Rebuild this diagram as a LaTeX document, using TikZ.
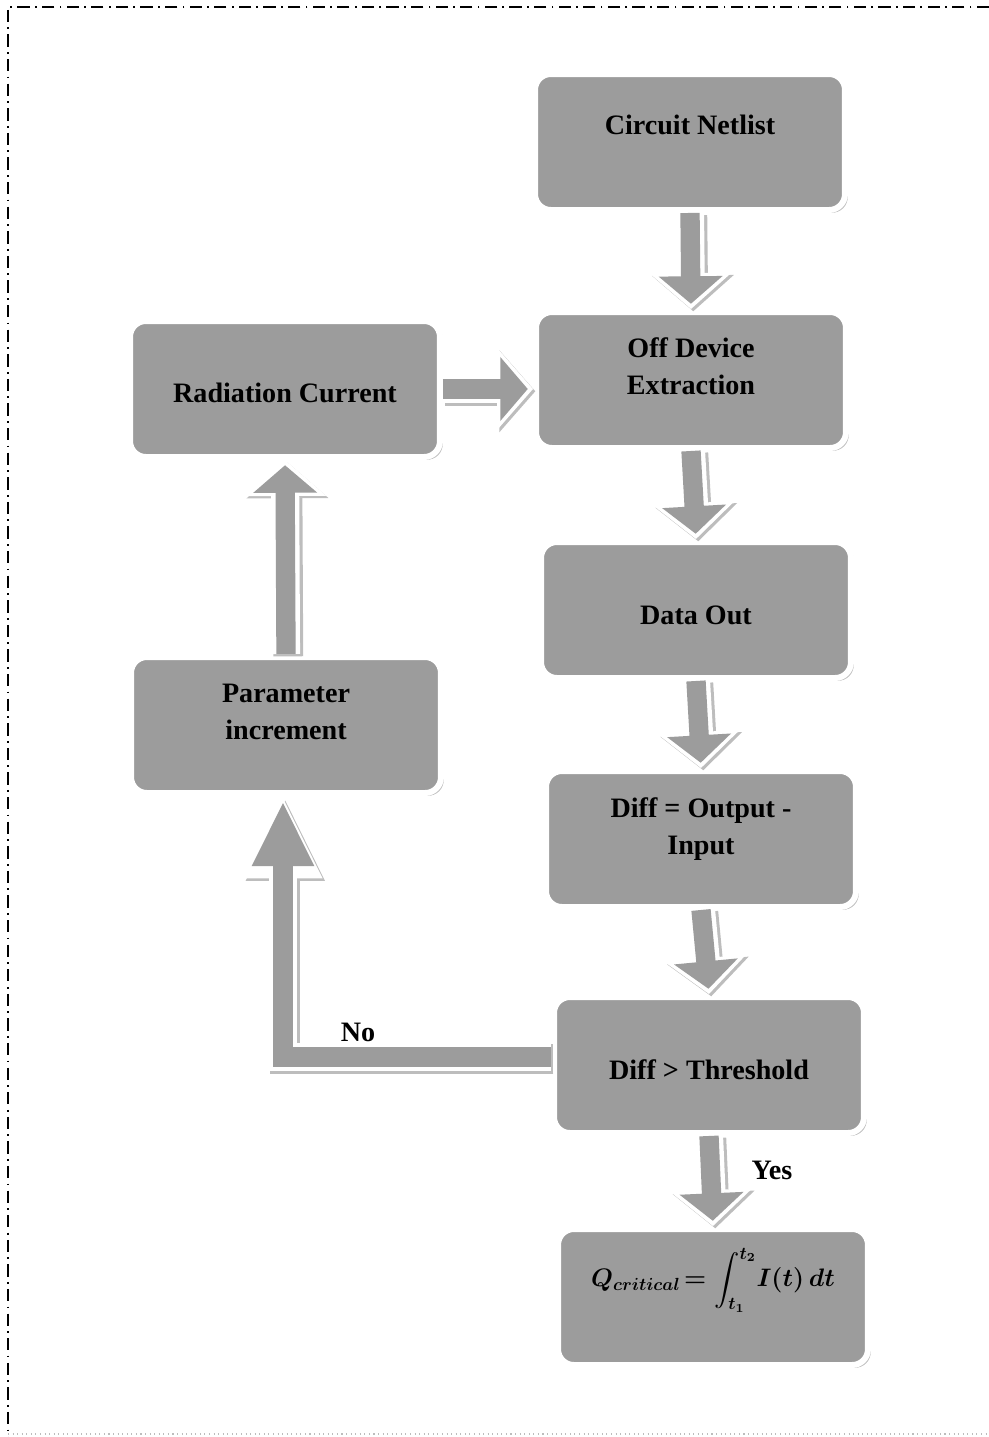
\documentclass[tikz,border=0pt]{standalone}
\usepackage{amsmath}
\usepackage{fontspec}
\setmainfont{Liberation Serif}
\usetikzlibrary{arrows.meta,shadows}

\definecolor{boxgray}{HTML}{9C9C9C}
\definecolor{edgegray}{HTML}{BDBDBD}

\newsavebox{\qcritbox}

\tikzset{
  stepbox/.style={rounded corners=9pt, fill=boxgray, draw=white, line width=3.4pt,
    minimum width=6.2cm, minimum height=2.72cm,
    drop shadow={shadow xshift=1.6pt, shadow yshift=-1.6pt, fill=edgegray, opacity=1}},
  boxtext/.style={align=center, font=\fontsize{16}{21}\selectfont\bfseries},
  flowbase/.style n args={4}{draw=boxgray, line width=11pt, line join=miter, shorten >=3pt,
    -{Triangle[width=#1, length=#2]},
    preaction={transform canvas={shift={(1.3pt,-1.3pt)}}, draw=edgegray, line width=17pt,
      shorten >=0pt, -{Triangle[width=#3, length=#4]}},
    preaction={draw=white, line width=16pt, shorten >=0pt,
      -{Triangle[width=#3, length=#4]}}},
  flow/.style={flowbase={1.25cm}{0.55cm}{1.6cm}{0.72cm}},
  longflow/.style={flowbase={1.15cm}{1.3cm}{1.45cm}{1.65cm}},
  flowlabel/.style={font=\fontsize{16}{21}\selectfont\bfseries}
}

\begin{document}
\sbox{\qcritbox}{\fontsize{14}{18}\selectfont\boldmath
  $Q_{critical}\!=\displaystyle\int_{t_1}^{t_2}\! I(t)\,dt$}%
\begin{tikzpicture}[x=0.02cm, y=-0.02cm]
\useasboundingbox (0,0) rectangle (989,1437);

% Frame (dash-dot)
\draw[line width=1pt, dash pattern=on 7pt off 3pt on 1pt off 3pt] (989,7) -- (8,7) -- (8,1437);
\draw[edgegray, line width=0.6pt, dotted] (8,1434) -- (989,1434);

% Right column
\node[stepbox, label={[boxtext, yshift=3.4mm]center:Circuit Netlist}] (net) at (690,142) {};
\node[stepbox, label={[boxtext, yshift=2.8mm]center:Off Device\\Extraction}] (off) at (691,380) {};
\node[stepbox, label={[boxtext, yshift=-1mm]center:Data Out}] (data) at (696,610) {};
\node[stepbox, label={[boxtext, yshift=2mm]center:Diff = Output -\\Input}] (diff) at (701,839) {};
\node[stepbox, label={[boxtext, yshift=-1mm]center:Diff \textgreater{} Threshold}] (thr) at (709,1065) {};
\node[stepbox, label={[boxtext, yshift=3.4mm]center:\usebox{\qcritbox}}] (qcrit) at (713,1297) {};

% Left column
\node[stepbox, label={[boxtext, yshift=-0.8mm]center:Radiation Current}] (rad) at (285,389) {};
\node[stepbox, label={[boxtext, yshift=2.6mm]center:Parameter\\increment}] (param) at (286,725) {};

% Loop corner
\coordinate (bend) at (283,1057);

% Connectors
\draw[flow] (net.south) -- (off.north);
\draw[flow] (rad.east) -- (rad.east -| off.west);
\draw[flow] (off.south) -- (data.north);
\draw[flow] (data.south) -- (diff.north);
\draw[flow] (diff.south) -- (thr.north);
\draw[flow] (thr.south) -- (qcrit.north);
\draw[longflow] (thr.west |- bend) -- (bend) -- (bend |- param.south);
\draw[flow] (param.north) -- (rad.south);

% Labels
\node[flowlabel] (yes) at (772,1170) {Yes};
\node[flowlabel] (no) at (358,1032) {No};
\end{tikzpicture}
\end{document}
